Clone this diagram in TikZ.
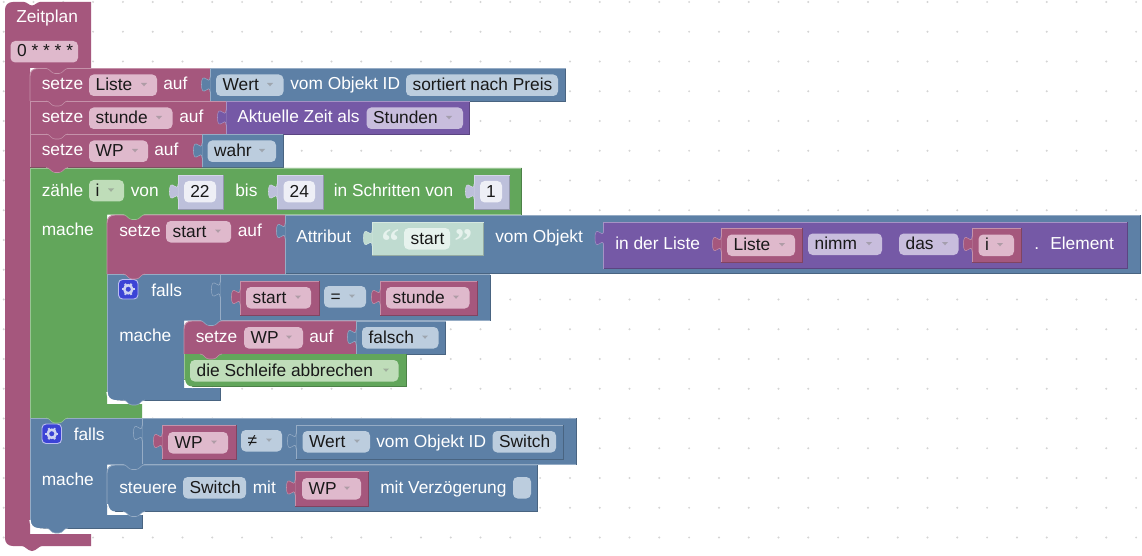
\documentclass[tikz,border=0pt]{standalone}
\usepackage{fontspec}
\setmainfont{Liberation Sans}
\newfontfamily\qfont{Liberation Serif}
\usetikzlibrary{calc}
\definecolor{mv}{HTML}{A5577D}
\definecolor{bl}{HTML}{5D80A6}
\definecolor{gr}{HTML}{62A65B}
\definecolor{pu}{HTML}{7559A6}
\definecolor{tq}{HTML}{BFDBD0}
\definecolor{nm}{HTML}{BDC0DB}
\definecolor{fmv}{HTML}{DFB9CC}
\definecolor{fbl}{HTML}{BCCDDE}
\definecolor{fgr}{HTML}{BFDDB9}
\definecolor{fpu}{HTML}{C8BDDD}
\definecolor{fnm}{HTML}{EEEFF6}
\definecolor{ftq}{HTML}{E6F2ED}
\definecolor{dotc}{HTML}{D4D4D4}
\definecolor{gearc}{HTML}{3B43D6}
\definecolor{gearw}{HTML}{CDD2F2}
\newcounter{nn}
\tikzset{
  lbl/.style={anchor=base west,inner sep=0pt,font=\fontsize{13}{13}\selectfont,text=#1},
  lbl/.default=white,
  ftxt/.style={anchor=base west,inner sep=0pt,font=\fontsize{13}{13}\selectfont,text=black!90},
  edgeL/.style={line width=.7pt,draw=#1!65!white},
  edgeD/.style={line width=.7pt,draw=#1!78!black}
}
% text label
\newcommand\Lb[3]{\stepcounter{nn}\node[lbl] (t\thenn) at (#1,#2) {#3};}
% field with dropdown: x1 x2 ytop colour text trianglex
\newcommand\Fd[6]{\fill[#4,rounded corners=3.5pt] (#1,#3) rectangle (#2,#3+21.5);
  \stepcounter{nn}\node[ftxt] (t\thenn) at (#1+6.4,#3+16) {#5};
  \fill[#4!50!gray] (#6-3,#3+8.5) -- (#6+3,#3+8.5) -- (#6,#3+11.8) -- cycle;}
% field without dropdown
\newcommand\Fn[5]{\fill[#4,rounded corners=3.5pt] (#1,#3) rectangle (#2,#3+21.5);
  \stepcounter{nn}\node[ftxt] (t\thenn) at (#1+6.4,#3+16) {#5};}
% centred number field
\newcommand\Fc[5]{\fill[#4,rounded corners=3.5pt] (#1,#3) rectangle (#2,#3+21.5);
  \stepcounter{nn}\node[ftxt,anchor=base] (t\thenn) at ({(#1+#2)/2},#3+16) {#5};}
% plain block rectangle
\newcommand\Rc[5]{\fill[#5] (#1,#2) rectangle (#3,#4);
  \draw[edgeD=#5] (#1,#4) -- (#3,#4) -- (#3,#2);
  \draw[edgeL=#5] (#1,#4) -- (#1,#2) -- (#3,#2);}
% output tab at left of block: x ytop colour
\newcommand\Tb[3]{\fill[#3] (#1+.5,#2) .. controls (#1,#2+10) and (#1-8.5,#2-8) .. (#1-8.5,#2+7.5)
   .. controls (#1-8.5,#2+23) and (#1,#2+5) .. (#1+.5,#2+15) -- cycle;
  \draw[edgeL=#3,line width=.4pt] (#1,#2) .. controls (#1,#2+10) and (#1-8.5,#2-8) .. (#1-8.5,#2+7.5)
   .. controls (#1-8.5,#2+23) and (#1,#2+5) .. (#1,#2+15);}
% next-statement notch
\newcommand\Nt[3]{\fill[#3] (#1+16,#2-.5) .. controls (#1+20,#2) and (#1+21,#2+5) .. (#1+25,#2+5) -- (#1+29,#2+5)
   .. controls (#1+33,#2+5) and (#1+34,#2) .. (#1+38,#2-.5) -- cycle;
  \draw[edgeL=#3,line width=.4pt] (#1+16,#2) .. controls (#1+20,#2) and (#1+21,#2+5) .. (#1+25,#2+5) -- (#1+29,#2+5)
   .. controls (#1+33,#2+5) and (#1+34,#2) .. (#1+38,#2);}
% gear button
\newcommand\Gr[2]{\filldraw[fill=gearc,draw=white!65!gearc,line width=.7pt,rounded corners=3pt] (#1,#2) rectangle (#1+19.5,#2+19.5);
  \foreach \a in {0,60,...,300}{\draw[gearw,line width=1.5pt] ($(#1+9.75,#2+9.75)+(\a:4)$) -- ($(#1+9.75,#2+9.75)+(\a:6.4)$);}
  \draw[gearw,line width=1.9pt] (#1+9.75,#2+9.75) circle[radius=4];}
\begin{document}
\begin{tikzpicture}[x=.75pt,y=-.75pt]
\useasboundingbox (0,0) rectangle (1142,556);
\fill[white] (0,0) rectangle (1142,556);
% dotted workspace grid
\foreach \i in {0,...,38}{\foreach \j in {0,...,18}{
  \fill[dotc] ({3.7+29.8*\i},{2+29.75*\j}) circle[radius=1.1];}}

% hat block
\fill[mv] (5,10) .. controls (5,5) and (8,2) .. (13,2) -- (24,2)
  .. controls (27,2) and (29,5.5) .. (32,5.5) .. controls (35,5.5) and (37,2) .. (40,2)
  -- (91,2) -- (91,68) -- (30,68) -- (30,534) -- (91,534) -- (91,546) -- (42,546)
  .. controls (39,546) and (36,551) .. (32,551) .. controls (28,551) and (25,546) .. (22,546)
  -- (13,546) .. controls (8,546) and (5,543) .. (5,538) -- cycle;
\Lb{16}{23}{Zeitplan}
\Fn{10.5}{78}{41}{fmv}{0 * * * *}

% row 1
\fill[mv] (30,76) .. controls (30,71) and (33,68.5) .. (38,68.5) -- (210,68.5) -- (210,101) -- (30,101) -- cycle;
\draw[edgeL=mv] (30,101) -- (30,76) .. controls (30,71) and (33,68.5) .. (38,68.5) -- (210,68.5);
\Lb{41.5}{90}{setze}
\Fd{89}{157}{74.5}{fmv}{Liste}{144}
\Lb{163}{90}{auf}
\Rc{210}{68.5}{565.5}{101}{bl}
\Tb{210}{77}{bl}
\Fd{216}{283.5}{74.5}{fbl}{Wert}{270}
\Lb{290}{90}{vom Objekt ID}
\Fn{406}{558}{74.5}{fbl}{sortiert nach Preis}
% row 2
\Rc{30}{101.5}{226}{134.5}{mv}
\Lb{41.5}{123}{setze}
\Fd{89}{172.5}{107.5}{fmv}{stunde}{159}
\Lb{179}{123}{auf}
\Rc{226}{101.5}{469.5}{134.5}{pu}
\Tb{226}{110}{pu}
\Lb{237}{123}{Aktuelle Zeit als}
\Fd{366.5}{463}{107.5}{fpu}{Stunden}{449}
% row 3
\Rc{30}{134.5}{202}{167.5}{mv}
\Lb{41.5}{156}{setze}
\Fd{89}{148}{140.5}{fmv}{WP}{135}
\Lb{154}{156}{auf}
\Rc{202}{134.5}{283}{167.5}{bl}
\Tb{202}{143}{bl}
\Fd{207.5}{276}{140.5}{fbl}{wahr}{262}

% count loop
\fill[gr] (30,168) -- (521.5,168) -- (521.5,214.5) -- (107,214.5) -- (107,404) -- (142,404) -- (142,418) -- (30,418) -- cycle;
\draw[edgeL=gr] (30,418) -- (30,168) -- (521.5,168);
\draw[edgeD=gr] (521.5,168) -- (521.5,214.5);
\Lb{41.5}{196}{zähle}
\Fd{89}{124}{180}{fgr}{i}{111}
\Lb{130.5}{196}{von}
\Rc{178}{175}{223}{209}{nm}
\Tb{178}{184}{nm}
\Fc{184}{216}{181}{fnm}{22}
\Lb{235}{196}{bis}
\Rc{277}{175}{323}{209}{nm}
\Tb{277}{184}{nm}
\Fc{283.5}{315}{181}{fnm}{24}
\Lb{333.5}{196}{in Schritten von}
\Rc{474}{175}{509.5}{209}{nm}
\Tb{474}{184}{nm}
\Fc{480}{502}{181}{fnm}{1}
\Lb{41.5}{235}{mache}

% set start
\fill[mv] (107,223) .. controls (107,218) and (110,215) .. (115,215) -- (285,215) -- (285,274) -- (107,274) -- cycle;
\draw[edgeL=mv] (107,274) -- (107,223) .. controls (107,218) and (110,215) .. (115,215) -- (285,215);
\Lb{119}{236}{setze}
\Fd{166}{231}{221}{fmv}{start}{218}
\Lb{237.5}{236}{auf}
\Rc{285}{215}{1140}{273.5}{bl}
\Tb{285}{223.5}{bl}
\Lb{296}{242}{Attribut}
\Rc{372}{222}{483.5}{255}{tq}
\Tb{372}{230.5}{tq}
\stepcounter{nn}\node[anchor=base west,inner sep=0pt,text=ftq,font=\qfont\bfseries\fontsize{27}{27}\selectfont] (t\thenn) at (381,253) {“};
\Fn{404}{450}{228}{ftq}{start}
\stepcounter{nn}\node[anchor=base west,inner sep=0pt,text=ftq,font=\qfont\bfseries\fontsize{27}{27}\selectfont] (t\thenn) at (454,253) {”};
\Lb{495}{242}{vom Objekt}
\Rc{603.5}{222}{1127}{268.5}{pu}
\Tb{603.5}{230.5}{pu}
\Lb{615}{249}{in der Liste}
\Rc{721}{228}{802}{262}{mv}
\Tb{721}{236.5}{mv}
\Fd{727}{795}{234.5}{fmv}{Liste}{782}
\Fd{808}{882}{233.5}{fpu}{nimm}{869}
\Fd{899}{958.5}{233.5}{fpu}{das}{945}
\Rc{972}{228}{1021}{262}{mv}
\Tb{972}{236.5}{mv}
\Fd{978.5}{1014}{234.5}{fmv}{i}{1000}
\Lb{1034}{249}{.}
\Lb{1050}{249}{Element}

% if 1
\fill[bl] (107,274.5) -- (490,274.5) -- (490,320.5) -- (184,320.5) -- (184,388) -- (220,388) -- (220,400) -- (115,400)
  .. controls (110,400) and (107,397) .. (107,392) -- cycle;
\draw[edgeL=bl] (107,392) -- (107,274.5) -- (490,274.5);
\draw[edgeD=bl] (490,274.5) -- (490,320.5);
\draw[edgeD=bl] (115,400) -- (220,400) -- (220,388);
\draw[white,line width=1pt] (107,392) .. controls (107,397) and (110,400.5) .. (115,400.8) -- (125,401.5);
\draw[edgeL=bl] (220,275) -- (220,320);
\Tb{220}{282}{bl}
\Gr{118.5}{279.5}
\Lb{151}{296}{falls}
\Rc{240}{281}{319}{315}{mv}
\Tb{240}{289.5}{mv}
\Fd{246}{311}{287}{fmv}{start}{298}
\Fd{324}{366}{286}{fbl}{=}{352}
\Rc{380}{281}{477}{315}{mv}
\Tb{380}{289.5}{mv}
\Fd{386}{469.5}{287}{fmv}{stunde}{456}
\Lb{119}{341}{mache}

% set WP false
\fill[mv] (184,329) .. controls (184,324) and (187,321) .. (192,321) -- (356,321) -- (356,354) -- (184,354) -- cycle;
\draw[edgeL=mv] (184,354) -- (184,329) .. controls (184,324) and (187,321) .. (192,321) -- (356,321);
\Lb{195.5}{342}{setze}
\Fd{244}{303}{327}{fmv}{WP}{289}
\Lb{309}{342}{auf}
\Rc{356}{321}{445.5}{354}{bl}
\Tb{356}{329.5}{bl}
\Fd{362}{438.5}{327}{fbl}{falsch}{425}

% break
\fill[gr] (184,354) -- (406,354) -- (406,386.5) -- (192,386.5) .. controls (187,386.5) and (184,383.5) .. (184,379) -- cycle;
\draw[edgeD=gr] (192,386.5) -- (406,386.5) -- (406,354);
\draw[edgeL=gr] (184,379) -- (184,354);
\draw[white,line width=.9pt] (184.5,380) .. controls (185,384.5) and (188,387.4) .. (193,387.6);
\Fd{190}{398.5}{360}{fgr}{die Schleife abbrechen}{386}

% if 2
\fill[bl] (30,418) -- (576,418) -- (576,464.5) -- (107,464.5) -- (107,515) -- (142,515) -- (142,528) -- (38,528)
  .. controls (33,528) and (30,525) .. (30,520) -- cycle;
\draw[edgeL=bl] (30,520) -- (30,418) -- (576,418);
\draw[edgeD=bl] (576,418) -- (576,464.5);
\draw[edgeD=bl] (38,528) -- (142,528) -- (142,515);
\draw[white,line width=1pt] (30,520) .. controls (30,525) and (33,528.5) .. (38,528.8) -- (48,529.5);
\draw[edgeL=bl] (142,418.5) -- (142,464);
\Tb{142}{425.5}{bl}
\Gr{42}{424}
\Lb{73.5}{440}{falls}
\Rc{162}{425}{236}{459}{mv}
\Tb{162}{433.5}{mv}
\Fd{168}{228}{432}{fmv}{WP}{214}
\Fd{241}{282}{430}{fbl}{≠}{269}
\Rc{296}{425}{563}{459}{bl}
\Tb{296}{433.5}{bl}
\Fd{302.5}{370}{431}{fbl}{Wert}{357}
\Lb{376}{447}{vom Objekt ID}
\Fn{492.5}{556}{431}{fbl}{Switch}
\Lb{41.5}{485}{mache}

% control switch
\fill[bl] (107,473) .. controls (107,468) and (110,465) .. (115,465) -- (537.5,465) -- (537.5,511.5) -- (115,511.5)
  .. controls (110,511.5) and (107,508.5) .. (107,503.5) -- cycle;
\draw[edgeL=bl] (107,503.5) -- (107,473) .. controls (107,468) and (110,465) .. (115,465) -- (537.5,465);
\draw[edgeD=bl] (115,511.5) -- (537.5,511.5) -- (537.5,465);
\draw[white,line width=.9pt] (107.5,504) .. controls (108,509) and (111,512.4) .. (116,512.7) -- (125,513.5);
\Lb{119}{493}{steuere}
\Fn{183}{246}{477}{fbl}{Switch}
\Lb{252.5}{493}{mit}
\Rc{295}{471}{368.5}{506}{mv}
\Tb{295}{480}{mv}
\Fd{302}{361}{478}{fmv}{WP}{347}
\Lb{380}{493}{mit Verzögerung}
\fill[fbl,rounded corners=3.5pt] (513,477) rectangle (531,498.5);

% notches
\Nt{30}{68.5}{mv}
\Nt{30}{101}{mv}
\Nt{30}{134}{mv}
\Nt{30}{167.5}{mv}
\Nt{107}{214.5}{gr}
\Nt{107}{274}{mv}
\Nt{184}{320.5}{bl}
\Nt{184}{354}{mv}
\Nt{107}{400}{bl}
\Nt{30}{418}{gr}
\Nt{107}{464.5}{bl}
\Nt{107}{511.5}{bl}
\Nt{30}{528}{bl}
\end{tikzpicture}
\end{document}
